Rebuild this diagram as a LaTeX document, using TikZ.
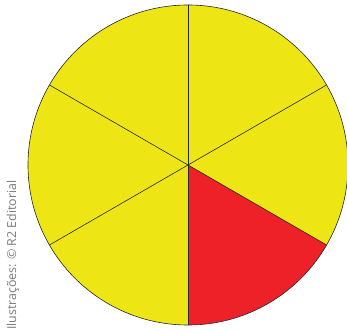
\documentclass[tikz,border=0pt]{standalone}
\usepackage{fontspec}
\setmainfont{Open Sans}
\usepackage{tikz}
\definecolor{pieYellow}{HTML}{EEE614}
\definecolor{pieRed}{HTML}{EE2129}
\definecolor{creditGray}{HTML}{7A7A7A}

\begin{document}
\begin{tikzpicture}[
  x=1pt, y=1pt,
  slice/.style={draw=black!85, line width=0.6pt, line join=round},
  credit/.style={font=\fontsize{12.4}{14}\selectfont, text=creditGray, rotate=90, inner sep=0pt},
]
\useasboundingbox (0,0) rectangle (347,331);

\coordinate (centre) at (188,166);

% six slices, the one at the lower right is red
\foreach \a/\col in {90/pieYellow, 30/pieYellow, -30/pieRed, -90/pieYellow, -150/pieYellow, 150/pieYellow}{
  \fill[\col] (centre) -- ++(\a:160) arc[start angle=\a, delta angle=-60, radius=160] -- cycle;
}
\foreach \a in {90, 30, -30, -90, -150, 150}{
  \draw[slice] (centre) -- ++(\a:160);
}
\draw[slice] (centre) circle[radius=160];

% credit line
\node[credit, anchor=west] (credit) at (13,1) {Ilustrações: © R2 Editorial};
\end{tikzpicture}
\end{document}
